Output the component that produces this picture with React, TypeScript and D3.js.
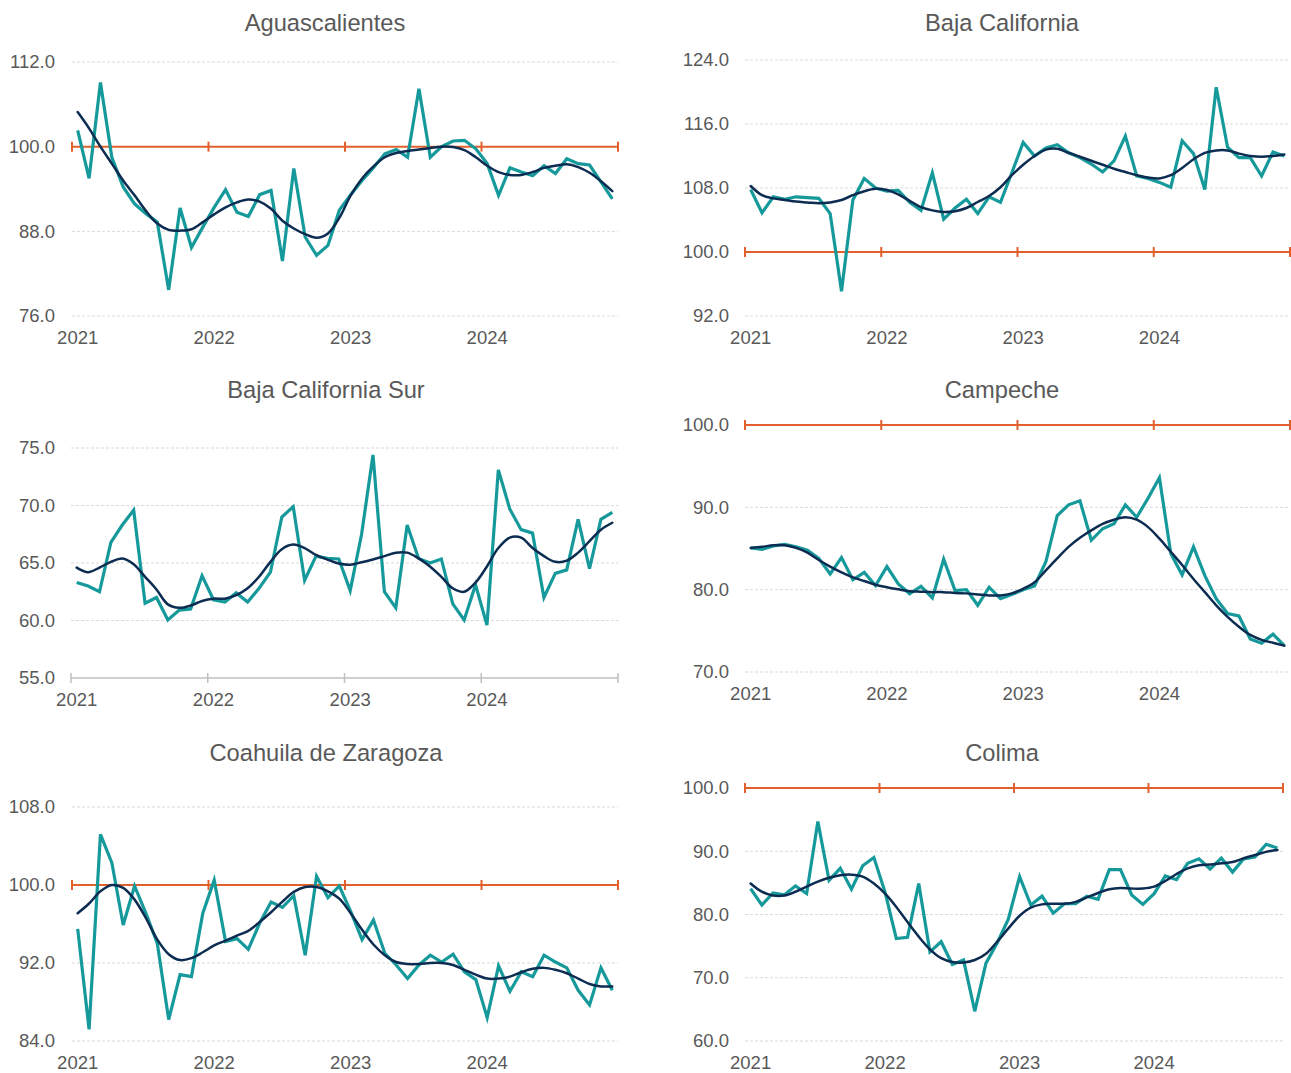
import React, { useEffect } from "react";
import * as d3 from "d3";

// ---------- data ----------
const years = ["2021", "2022", "2023", "2024"];
const monthsPerYear = 12;
const referenceValue = 100;

const aguasRaw = [102.3, 95.5, 109.1, 98.5, 94.3, 91.9, 90.5, 89.3, 79.7, 91.3, 85.7, 88.6,
  91.4, 93.9, 90.7, 90.1, 93.2, 93.8, 83.8, 96.9, 87.2, 84.6, 86.0, 91.0,
  93.2, 95.2, 97.0, 99.0, 99.6, 98.5, 108.2, 98.5, 100.0, 100.8, 100.9, 99.7,
  97.6, 93.1, 97.0, 96.4, 95.9, 97.3, 96.2, 98.3, 97.6, 97.4, 95.0, 92.6];
const aguasTrend = [104.9, 102.6, 100.0, 97.6, 95.2, 93.1, 90.9, 89.1, 88.2, 88.1, 88.3, 89.3,
  90.4, 91.4, 92.1, 92.5, 92.2, 91.2, 89.5, 88.4, 87.6, 87.1, 87.7, 89.9,
  93.1, 95.5, 97.2, 98.5, 99.1, 99.4, 99.6, 99.8, 100.0, 99.95, 99.5, 98.5,
  97.3, 96.4, 96.0, 96.0, 96.4, 97.0, 97.3, 97.5, 97.1, 96.3, 95.1, 93.7];
const aguasTicks = [76, 88, 100, 112];

const bcRaw = [107.8, 104.9, 106.9, 106.6, 106.9, 106.8, 106.7, 104.8, 95.1, 106.5, 109.2, 108.0,
  107.6, 107.7, 106.2, 105.2, 109.9, 104.1, 105.5, 106.6, 104.8, 106.9, 106.2, 109.9,
  113.7, 112.0, 113.0, 113.4, 112.4, 111.8, 111.0, 110.0, 111.4, 114.5, 109.5, 109.2,
  108.7, 108.1, 113.9, 112.3, 107.8, 120.6, 113.1, 111.8, 111.8, 109.5, 112.5, 112.0];
const bcTrend = [108.25, 107.1, 106.7, 106.5, 106.3, 106.2, 106.1, 106.2, 106.5, 107.1, 107.6, 107.9,
  107.75, 107.2, 106.4, 105.6, 105.2, 105.0, 105.1, 105.5, 106.25, 107.0, 108.1, 109.6,
  110.9, 112.0, 112.8, 112.9, 112.4, 111.9, 111.4, 110.9, 110.4, 110.0, 109.6, 109.3,
  109.2, 109.6, 110.5, 111.6, 112.4, 112.7, 112.7, 112.3, 112.0, 111.9, 112.0, 112.2];
const bcTicks = [92, 100, 108, 116, 124];

const bcsRaw = [63.3, 63.0, 62.5, 66.8, 68.3, 69.6, 61.5, 62.0, 60.05, 60.9, 61.0, 63.9,
  61.8, 61.6, 62.4, 61.6, 62.8, 64.2, 69.0, 69.9, 63.5, 65.6, 65.4, 65.35,
  62.6, 67.5, 74.4, 62.5, 61.1, 68.3, 65.4, 65.0, 65.35, 61.45, 60.05, 63.1,
  59.6, 73.1, 69.7, 67.9, 67.6, 62.0, 64.1, 64.4, 68.8, 64.5, 68.8, 69.4];
const bcsTrend = [64.6, 64.2, 64.6, 65.1, 65.4, 64.9, 63.8, 62.7, 61.4, 61.1, 61.3, 61.7,
  61.9, 61.9, 62.2, 62.8, 63.8, 65.1, 66.2, 66.6, 66.3, 65.7, 65.3, 64.95,
  64.85, 65.06, 65.3, 65.6, 65.9, 65.9, 65.4, 64.7, 63.8, 62.8, 62.5, 63.3,
  64.7, 66.3, 67.2, 67.2, 66.3, 65.6, 65.1, 65.2, 65.9, 66.9, 67.9, 68.5];
const bcsTicks = [55, 60, 65, 70, 75];

const campRaw = [85.07, 84.9, 85.3, 85.5, 85.2, 84.8, 83.8, 81.9, 83.9, 81.2, 82.1, 80.5,
  82.8, 80.7, 79.5, 80.4, 79.0, 83.7, 79.9, 80.0, 78.1, 80.3, 78.9, 79.4,
  80.0, 80.45, 83.4, 89.0, 90.3, 90.8, 86.0, 87.4, 88.0, 90.3, 88.8, 91.1,
  93.6, 84.4, 81.8, 85.2, 81.7, 78.9, 77.1, 76.8, 74.0, 73.5, 74.6, 73.2];
const campTrend = [85.07, 85.2, 85.4, 85.4, 85.07, 84.5, 83.6, 82.8, 82.1, 81.5, 81.05, 80.6,
  80.3, 80.04, 79.8, 79.76, 79.7, 79.7, 79.6, 79.55, 79.4, 79.3, 79.3, 79.55,
  80.1, 80.9, 82.35, 83.8, 85.2, 86.3, 87.2, 88.0, 88.5, 88.8, 88.5, 87.6,
  86.2, 84.6, 83.0, 81.3, 79.7, 78.1, 76.7, 75.5, 74.5, 73.9, 73.55, 73.2];
const campTicks = [70, 80, 90, 100];

const coahRaw = [95.5, 85.2, 105.2, 102.3, 95.9, 99.9, 97.1, 94.0, 86.2, 90.8, 90.6, 97.1,
  100.5, 94.2, 94.5, 93.4, 96.1, 98.25, 97.7, 98.9, 92.8, 100.9, 98.7, 99.9,
  97.3, 94.4, 96.4, 93.0, 91.8, 90.4, 91.8, 92.8, 92.1, 92.9, 91.1, 90.3,
  86.4, 91.7, 89.1, 91.1, 90.6, 92.8, 92.1, 91.5, 89.2, 87.7, 91.5, 89.2];
const coahTrend = [97.1, 98.1, 99.35, 100.0, 99.7, 98.5, 96.6, 94.4, 92.9, 92.3, 92.5, 93.1,
  93.8, 94.3, 94.8, 95.3, 96.2, 97.2, 98.3, 99.3, 99.8, 99.8, 99.35, 98.6,
  97.1, 95.4, 93.9, 92.8, 92.1, 91.9, 91.9, 92.0, 92.0, 91.8, 91.3, 90.8,
  90.4, 90.4, 90.6, 91.05, 91.4, 91.5, 91.3, 90.95, 90.4, 89.85, 89.6, 89.6];
const coahTicks = [84, 92, 100, 108];

const colRaw = [84.1, 81.5, 83.4, 83.1, 84.5, 83.3, 94.7, 85.4, 87.3, 84.0, 87.7, 89.0,
  83.5, 76.2, 76.4, 84.9, 74.1, 75.7, 72.1, 72.8, 64.7, 72.3, 75.5, 79.3,
  86.0, 81.5, 82.9, 80.2, 81.7, 81.7, 82.9, 82.4, 87.1, 87.1, 83.1, 81.6,
  83.3, 86.1, 85.5, 88.1, 88.8, 87.2, 88.9, 86.7, 88.8, 89.1, 91.1, 90.5];
const colTrend = [84.9, 83.6, 83.0, 83.0, 83.6, 84.4, 85.2, 85.8, 86.2, 86.3, 86.0, 84.9,
  83.3, 81.2, 78.8, 76.5, 74.5, 73.1, 72.5, 72.4, 72.8, 73.8, 75.7, 77.8,
  79.8, 81.1, 81.6, 81.7, 81.7, 82.0, 82.7, 83.4, 84.0, 84.2, 84.1, 84.1,
  84.4, 85.3, 86.4, 87.3, 87.8, 87.9, 88.1, 88.3, 88.9, 89.4, 89.9, 90.2];
const colTicks = [60, 70, 80, 90, 100];

// ---------- layout / style ----------
const COLORS = {
  raw: "#16999B",
  trend: "#0C2C52",
  ref: "#E1602C",
  grid: "#D9D9D9",
  axis: "#BFBFBF",
  text: "#595959",
};
const FONT = "'Liberation Sans', Arial, Helvetica, sans-serif";

type PanelDef = {
  title: string;
  raw: number[];
  trend: number[];
  ticks: number[];
  left: number;
  right: number;
  top: number;
  bottom: number;
  titleX: number;
  titleY: number;
  labelX: number;
};

const panels: PanelDef[] = [
  { title: "Aguascalientes", raw: aguasRaw, trend: aguasTrend, ticks: aguasTicks,
    left: 72, right: 618, top: 62, bottom: 316, titleX: 325, titleY: 31, labelX: 55 },
  { title: "Baja California", raw: bcRaw, trend: bcTrend, ticks: bcTicks,
    left: 745, right: 1290, top: 60, bottom: 316, titleX: 1002, titleY: 31, labelX: 729 },
  { title: "Baja California Sur", raw: bcsRaw, trend: bcsTrend, ticks: bcsTicks,
    left: 71, right: 618, top: 448, bottom: 678, titleX: 326, titleY: 398, labelX: 55 },
  { title: "Campeche", raw: campRaw, trend: campTrend, ticks: campTicks,
    left: 745, right: 1290, top: 425, bottom: 672, titleX: 1002, titleY: 398, labelX: 729 },
  { title: "Coahuila de Zaragoza", raw: coahRaw, trend: coahTrend, ticks: coahTicks,
    left: 72, right: 618, top: 807, bottom: 1041, titleX: 326, titleY: 761, labelX: 55 },
  { title: "Colima", raw: colRaw, trend: colTrend, ticks: colTicks,
    left: 745, right: 1283, top: 788, bottom: 1041, titleX: 1002, titleY: 761, labelX: 729 },
];

function Panel({ p }: { p: PanelDef }) {
  const n = p.raw.length;
  const x = d3.scaleBand<number>().domain(d3.range(n)).range([p.left, p.right]).padding(0);
  const bw = x.bandwidth();
  const cx = (i: number) => (x(i) as number) + bw / 2;
  const y = d3.scaleLinear().domain([d3.min(p.ticks)!, d3.max(p.ticks)!]).range([p.bottom, p.top]);
  const [ymin, ymax] = y.domain();
  const hasRef = referenceValue >= ymin && referenceValue <= ymax;
  const axisValue = hasRef ? referenceValue : ymin;
  const axisY = y(axisValue);

  const rawLine = d3.line<number>().x((_, i) => cx(i)).y((d) => y(d));
  const trendLine = d3
    .line<number>()
    .x((_, i) => cx(i))
    .y((d) => y(d))
    .curve(d3.curveCatmullRom.alpha(0.5));

  const boundaries = d3.range(0, n + 1, monthsPerYear).map((i) => (i < n ? (x(i) as number) : p.right));

  return (
    <g>
      <text x={p.titleX} y={p.titleY} textAnchor="middle" fontSize={23.7} fill={COLORS.text} fontFamily={FONT}>
        {p.title}
      </text>
      {p.ticks.map((t) => (
        <g key={t}>
          {!(t === axisValue) && (
            <line x1={p.left} x2={p.right} y1={y(t)} y2={y(t)} stroke={COLORS.grid} strokeWidth={1} strokeDasharray="3,2" />
          )}
          <text x={p.labelX} y={y(t)} dy="0.35em" textAnchor="end" fontSize={18.5} fill={COLORS.text} fontFamily={FONT}>
            {t.toFixed(1)}
          </text>
        </g>
      ))}
      <g>
        <line x1={p.left} x2={p.right} y1={axisY} y2={axisY} stroke={hasRef ? COLORS.ref : COLORS.axis} strokeWidth={hasRef ? 2 : 1.5} />
        {boundaries.map((bx, k) => (
          <line key={k} x1={bx} x2={bx} y1={axisY - 5} y2={axisY + 5} stroke={hasRef ? COLORS.ref : COLORS.axis} strokeWidth={hasRef ? 2 : 1.5} />
        ))}
      </g>
      {years.map((yr, k) => (
        <text key={yr} x={cx(k * monthsPerYear)} y={p.bottom + 28} textAnchor="middle" fontSize={18.5} fill={COLORS.text} fontFamily={FONT}>
          {yr}
        </text>
      ))}
      <path d={rawLine(p.raw) || ""} fill="none" stroke={COLORS.raw} strokeWidth={3.2} strokeLinejoin="miter" />
      <path d={trendLine(p.trend) || ""} fill="none" stroke={COLORS.trend} strokeWidth={2.5} strokeLinecap="round" />
    </g>
  );
}

export default function App() {
  useEffect(() => {
    document.body.style.margin = "0";
  }, []);
  return (
    <svg width={1291} height={1073} style={{ position: "absolute", left: 0, top: 0, background: "#fff" }}>
      <rect x={0} y={0} width={1291} height={1073} fill="#fff" />
      {panels.map((p) => (
        <Panel key={p.title} p={p} />
      ))}
    </svg>
  );
}
